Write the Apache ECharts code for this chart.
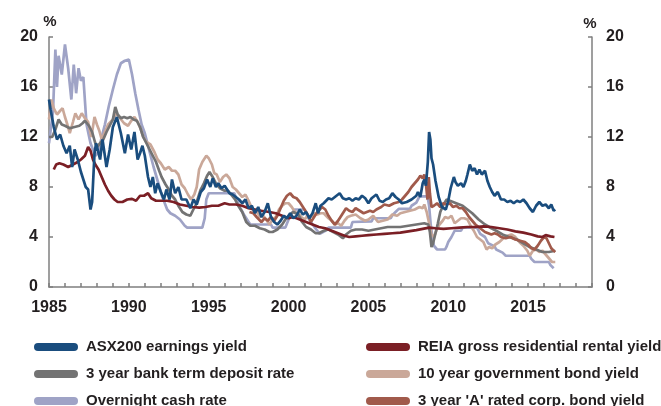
<!DOCTYPE html>
<html><head><meta charset="utf-8">
<script src="https://cdn.jsdelivr.net/npm/echarts@6/dist/echarts.min.js"></script>
<style>html,body{margin:0;padding:0;background:#fff}#c{width:661px;height:406px}</style>
</head><body><div id="c"></div>
<script>
const seriesNames = ['ASX200 earnings yield','REIA gross residential rental yield','3 year bank term deposit rate','10 year government bond yield','Overnight cash rate',"3 year 'A' rated corp. bond yield"];
const xTickYears = [1985,1990,1995,2000,2005,2010,2015];
const yTicks = [0,4,8,12,16,20];

const asx200 = [[1985.0,15.0],[1985.1,14.2],[1985.3,12.8],[1985.5,11.8],[1985.7,12.2],[1985.9,11.3],[1986.1,10.7],[1986.3,11.3],[1986.45,9.6],[1986.6,11.0],[1986.8,10.2],[1987.0,9.2],[1987.15,8.6],[1987.3,8.0],[1987.45,7.8],[1987.6,6.2],[1987.7,6.8],[1987.85,10.7],[1987.95,11.5],[1988.2,10.2],[1988.35,11.8],[1988.6,9.6],[1988.8,11.0],[1989.0,12.8],[1989.25,13.6],[1989.5,12.3],[1989.75,10.7],[1989.95,12.2],[1990.15,11.0],[1990.35,12.4],[1990.55,10.2],[1990.7,10.7],[1990.85,11.3],[1991.0,10.5],[1991.2,8.8],[1991.35,8.0],[1991.5,8.8],[1991.65,7.5],[1991.8,8.3],[1992.0,7.6],[1992.2,7.0],[1992.35,7.8],[1992.55,7.0],[1992.7,8.6],[1992.9,7.5],[1993.1,8.0],[1993.3,7.0],[1993.6,7.0],[1993.85,6.3],[1994.05,7.0],[1994.25,6.6],[1994.5,7.6],[1994.7,7.9],[1994.9,8.6],[1995.1,8.0],[1995.25,8.7],[1995.45,8.0],[1995.6,8.3],[1995.8,7.9],[1996.0,8.1],[1996.3,7.5],[1996.5,7.4],[1996.9,7.0],[1997.1,6.7],[1997.3,7.0],[1997.5,6.3],[1997.7,6.5],[1997.9,5.9],[1998.1,6.4],[1998.3,5.6],[1998.5,6.0],[1998.7,6.7],[1998.9,5.6],[1999.1,5.2],[1999.3,5.0],[1999.5,5.3],[1999.7,5.7],[1999.9,5.5],[2000.1,5.9],[2000.3,5.5],[2000.5,5.7],[2000.7,6.2],[2000.9,5.8],[2001.1,6.0],[2001.3,5.5],[2001.5,5.9],[2001.7,6.7],[2001.85,5.9],[2002.0,6.5],[2002.2,6.7],[2002.5,7.1],[2002.7,7.0],[2002.9,7.2],[2003.2,7.5],[2003.4,7.1],[2003.6,7.0],[2003.8,7.1],[2004.0,6.9],[2004.2,7.1],[2004.4,7.0],[2004.6,7.3],[2004.8,7.1],[2005.0,6.7],[2005.2,7.1],[2005.5,7.4],[2005.7,6.9],[2005.9,6.8],[2006.1,7.0],[2006.3,7.1],[2006.5,7.5],[2006.7,7.2],[2006.9,7.0],[2007.1,6.7],[2007.4,6.8],[2007.7,7.0],[2008.0,7.3],[2008.1,7.6],[2008.25,7.2],[2008.4,8.3],[2008.5,8.6],[2008.6,8.1],[2008.72,10.0],[2008.8,12.4],[2008.88,11.8],[2008.95,10.3],[2009.05,9.8],[2009.2,8.5],[2009.4,7.2],[2009.6,6.4],[2009.85,6.2],[2010.0,6.9],[2010.15,7.9],[2010.35,8.8],[2010.45,8.4],[2010.6,8.1],[2010.8,8.3],[2010.95,8.0],[2011.1,8.5],[2011.2,9.0],[2011.35,9.8],[2011.5,9.3],[2011.65,9.5],[2011.8,9.0],[2011.95,9.4],[2012.1,9.0],[2012.3,9.3],[2012.45,8.5],[2012.6,8.0],[2012.75,7.6],[2012.9,7.3],[2013.1,7.6],[2013.3,7.0],[2013.5,7.0],[2013.7,6.8],[2013.9,6.9],[2014.1,6.7],[2014.3,6.9],[2014.5,6.8],[2014.7,7.0],[2014.9,6.7],[2015.1,6.3],[2015.3,6.0],[2015.5,6.5],[2015.7,6.8],[2015.9,6.5],[2016.1,6.6],[2016.3,6.3],[2016.45,6.6],[2016.6,6.1],[2016.7,6.2]];

const rentalYield = [[1985.3,9.4],[1985.45,9.8],[1985.65,9.9],[1985.9,9.8],[1986.2,9.6],[1986.5,9.8],[1986.8,10.0],[1987.0,10.2],[1987.25,10.5],[1987.45,11.2],[1987.6,10.9],[1987.75,10.2],[1987.9,9.8],[1988.1,9.4],[1988.3,8.8],[1988.5,8.2],[1988.7,7.7],[1988.9,7.3],[1989.1,7.0],[1989.3,6.8],[1989.6,6.8],[1989.9,7.0],[1990.2,7.05],[1990.45,6.9],[1990.7,7.3],[1990.95,7.3],[1991.2,7.5],[1991.4,7.1],[1991.7,6.9],[1992.0,6.9],[1992.4,6.9],[1992.8,6.8],[1993.2,6.6],[1993.6,6.5],[1994.0,6.4],[1994.4,6.35],[1994.8,6.4],[1995.2,6.5],[1995.6,6.5],[1996.0,6.7],[1996.3,6.6],[1996.7,6.6],[1997.1,6.5],[1997.5,6.3],[1997.9,6.2],[1998.3,6.1],[1998.8,6.0],[1999.2,5.9],[1999.6,5.7],[2000.0,5.5],[2000.3,5.6],[2000.7,5.4],[2001.1,5.2],[2001.5,5.0],[2001.9,4.8],[2002.3,4.7],[2002.7,4.5],[2003.1,4.3],[2003.5,4.1],[2003.8,4.0],[2004.2,4.05],[2004.6,4.1],[2005.0,4.15],[2005.5,4.2],[2006.0,4.25],[2006.5,4.3],[2007.0,4.35],[2007.5,4.45],[2008.0,4.55],[2008.4,4.65],[2008.8,4.75],[2009.2,4.7],[2009.7,4.65],[2010.2,4.7],[2010.7,4.75],[2011.2,4.8],[2011.7,4.8],[2012.2,4.85],[2012.7,4.8],[2013.2,4.7],[2013.7,4.6],[2014.2,4.45],[2014.7,4.35],[2015.2,4.2],[2015.6,4.05],[2015.9,4.0],[2016.1,4.15],[2016.4,4.05],[2016.65,4.0]];

const termDeposit = [[1985.0,12.0],[1985.2,12.0],[1985.4,12.6],[1985.6,13.4],[1985.8,13.0],[1986.0,12.9],[1986.3,12.7],[1986.6,12.8],[1986.9,12.9],[1987.1,13.1],[1987.25,13.3],[1987.5,12.9],[1987.7,12.4],[1987.9,11.5],[1988.0,11.2],[1988.2,11.5],[1988.4,11.8],[1988.6,12.4],[1988.8,12.9],[1989.0,13.4],[1989.15,14.4],[1989.3,13.8],[1989.5,13.5],[1989.7,13.6],[1989.9,13.5],[1990.1,13.6],[1990.3,13.4],[1990.5,13.3],[1990.7,12.8],[1990.9,12.0],[1991.1,11.5],[1991.3,11.0],[1991.5,10.5],[1991.7,10.0],[1991.9,9.3],[1992.05,8.8],[1992.3,8.2],[1992.5,7.8],[1992.7,7.3],[1992.9,7.0],[1993.1,6.5],[1993.35,6.0],[1993.6,5.8],[1993.85,5.7],[1994.0,6.1],[1994.2,6.6],[1994.35,7.2],[1994.5,7.8],[1994.7,8.3],[1994.9,8.9],[1995.05,9.2],[1995.25,8.8],[1995.45,8.3],[1995.7,7.9],[1996.0,7.7],[1996.2,7.7],[1996.4,7.4],[1996.65,7.0],[1996.85,6.5],[1997.1,6.0],[1997.35,5.2],[1997.6,4.9],[1997.9,4.9],[1998.2,4.7],[1998.5,4.6],[1998.8,4.4],[1999.0,4.4],[1999.3,4.6],[1999.6,5.0],[1999.85,5.5],[2000.1,5.8],[2000.3,6.0],[2000.6,5.8],[2000.85,5.2],[2001.1,4.8],[2001.4,4.6],[2001.7,4.3],[2001.9,4.3],[2002.2,4.5],[2002.5,4.6],[2002.8,4.4],[2003.1,4.2],[2003.4,3.9],[2003.6,4.2],[2003.9,4.5],[2004.2,4.6],[2004.6,4.6],[2005.0,4.5],[2005.4,4.6],[2005.8,4.7],[2006.2,4.8],[2006.6,4.8],[2007.0,4.8],[2007.5,4.9],[2008.0,5.0],[2008.5,5.1],[2008.75,5.0],[2008.85,4.4],[2008.95,3.2],[2009.05,3.5],[2009.2,4.3],[2009.35,5.1],[2009.5,6.0],[2009.7,6.6],[2009.9,7.0],[2010.1,6.9],[2010.5,6.7],[2010.9,6.5],[2011.1,6.3],[2011.5,5.9],[2011.9,5.4],[2012.3,5.0],[2012.7,4.7],[2013.0,4.5],[2013.4,4.2],[2013.8,4.0],[2014.3,3.8],[2014.7,3.5],[2015.1,3.2],[2015.5,3.0],[2015.9,2.8],[2016.3,2.8],[2016.7,2.9]];

const govBond10y = [[1985.0,13.4],[1985.15,15.0],[1985.3,14.3],[1985.5,13.8],[1985.7,14.1],[1985.85,14.3],[1986.0,13.6],[1986.15,13.0],[1986.3,12.3],[1986.5,13.2],[1986.65,13.9],[1986.85,13.4],[1987.05,13.9],[1987.25,13.5],[1987.45,13.2],[1987.65,12.0],[1987.85,13.6],[1988.0,13.0],[1988.15,12.5],[1988.3,11.8],[1988.5,12.4],[1988.7,13.0],[1989.0,13.4],[1989.2,13.9],[1989.45,13.5],[1989.7,13.1],[1989.95,12.9],[1990.15,13.3],[1990.35,13.6],[1990.55,13.2],[1990.75,12.6],[1990.9,12.0],[1991.1,11.6],[1991.35,11.4],[1991.6,10.8],[1991.8,10.2],[1992.0,9.9],[1992.25,9.4],[1992.5,9.6],[1992.7,9.3],[1992.9,9.3],[1993.1,9.0],[1993.3,8.2],[1993.5,7.9],[1993.7,7.4],[1993.9,7.0],[1994.1,7.4],[1994.25,8.0],[1994.4,9.4],[1994.6,10.0],[1994.85,10.5],[1995.0,10.3],[1995.2,9.8],[1995.35,9.1],[1995.5,9.0],[1995.7,8.4],[1995.9,8.8],[1996.1,9.0],[1996.3,8.7],[1996.5,8.0],[1996.7,7.8],[1996.9,7.5],[1997.1,7.2],[1997.3,7.4],[1997.5,6.9],[1997.7,6.3],[1997.85,6.0],[1998.0,6.1],[1998.2,5.6],[1998.4,5.7],[1998.6,5.4],[1998.8,5.0],[1999.0,5.4],[1999.2,5.6],[1999.4,6.2],[1999.6,6.5],[1999.8,6.7],[2000.0,6.7],[2000.2,6.4],[2000.4,6.0],[2000.6,5.9],[2000.8,5.6],[2001.0,5.4],[2001.2,5.7],[2001.4,5.6],[2001.6,5.9],[2001.8,5.8],[2002.0,5.9],[2002.2,5.9],[2002.5,5.5],[2002.7,5.3],[2002.9,5.0],[2003.1,5.1],[2003.3,4.9],[2003.5,5.3],[2003.7,5.6],[2003.9,5.7],[2004.2,5.8],[2004.5,5.5],[2004.8,5.3],[2005.0,5.4],[2005.3,5.7],[2005.6,5.2],[2005.9,5.3],[2006.2,5.4],[2006.5,5.8],[2006.8,5.7],[2007.0,5.9],[2007.3,6.0],[2007.6,6.1],[2007.9,6.2],[2008.2,6.4],[2008.4,6.3],[2008.5,6.6],[2008.65,6.0],[2008.8,5.1],[2008.95,4.2],[2009.1,4.0],[2009.25,4.5],[2009.45,5.0],[2009.65,5.3],[2009.8,5.6],[2010.0,5.5],[2010.2,5.7],[2010.4,5.1],[2010.6,5.3],[2010.8,5.5],[2011.0,5.5],[2011.2,5.4],[2011.4,4.9],[2011.6,4.5],[2011.8,4.0],[2012.0,3.8],[2012.2,3.6],[2012.4,3.0],[2012.55,3.2],[2012.75,3.1],[2012.95,3.4],[2013.2,3.6],[2013.45,3.9],[2013.7,4.1],[2013.95,4.2],[2014.2,4.0],[2014.45,3.6],[2014.7,3.3],[2014.95,2.9],[2015.1,2.5],[2015.3,2.9],[2015.5,3.0],[2015.7,2.8],[2015.9,2.9],[2016.1,2.6],[2016.3,2.3],[2016.5,2.0],[2016.6,1.9],[2016.7,2.0]];

const cashRate = [[1985.0,11.5],[1985.25,14.0],[1985.4,19.0],[1985.5,16.0],[1985.6,18.5],[1985.8,17.0],[1986.0,19.4],[1986.2,17.5],[1986.4,15.0],[1986.55,17.8],[1986.7,15.5],[1986.85,17.5],[1987.0,16.5],[1987.15,16.8],[1987.35,13.0],[1987.6,11.5],[1987.9,10.5],[1988.1,10.8],[1988.3,12.0],[1988.5,13.0],[1988.75,14.5],[1989.0,15.8],[1989.25,17.0],[1989.5,17.9],[1989.75,18.1],[1990.0,18.2],[1990.2,17.0],[1990.4,15.5],[1990.6,14.2],[1990.8,13.0],[1991.0,12.3],[1991.3,10.8],[1991.55,9.6],[1991.8,8.5],[1992.1,7.2],[1992.4,6.2],[1992.6,5.9],[1992.9,5.7],[1993.2,5.4],[1993.5,4.9],[1993.65,4.75],[1994.6,4.75],[1994.75,5.5],[1994.85,7.0],[1995.0,7.5],[1996.6,7.5],[1996.75,7.0],[1996.9,6.5],[1997.2,5.8],[1997.6,5.0],[1998.9,5.0],[1999.0,4.75],[1999.8,4.75],[2000.0,5.4],[2000.2,5.9],[2000.4,6.2],[2001.0,6.2],[2001.2,5.6],[2001.5,5.0],[2001.8,4.5],[2001.95,4.25],[2002.3,4.5],[2002.5,4.75],[2003.9,4.75],[2004.0,5.2],[2005.2,5.25],[2005.3,5.5],[2006.4,5.5],[2006.5,5.75],[2006.7,6.0],[2006.9,6.25],[2007.6,6.25],[2007.7,6.5],[2008.0,6.75],[2008.2,7.25],[2008.7,7.25],[2008.8,6.5],[2008.9,5.0],[2009.0,4.0],[2009.1,3.3],[2009.3,3.0],[2009.8,3.0],[2009.9,3.25],[2010.0,3.6],[2010.2,4.0],[2010.4,4.5],[2010.8,4.5],[2010.9,4.75],[2011.8,4.75],[2011.9,4.5],[2012.0,4.25],[2012.3,4.0],[2012.5,3.5],[2012.9,3.25],[2013.0,3.0],[2013.4,2.75],[2013.6,2.5],[2015.1,2.5],[2015.2,2.25],[2015.4,2.0],[2016.3,2.0],[2016.4,1.75],[2016.6,1.5]];

const corpBond = [[1997.55,6.0],[1997.8,5.9],[1998.0,5.6],[1998.3,5.2],[1998.5,5.5],[1998.7,5.3],[1998.9,5.6],[1999.1,5.3],[1999.3,5.7],[1999.5,6.3],[1999.7,6.9],[1999.9,7.3],[2000.1,7.5],[2000.3,7.2],[2000.5,7.1],[2000.7,6.8],[2000.85,6.5],[2001.0,6.2],[2001.2,5.8],[2001.4,5.2],[2001.6,5.6],[2001.8,6.0],[2002.1,6.4],[2002.3,6.2],[2002.5,5.7],[2002.7,5.3],[2002.9,5.0],[2003.1,5.3],[2003.35,5.8],[2003.6,6.3],[2003.8,6.1],[2004.0,6.0],[2004.2,6.3],[2004.45,6.1],[2004.7,5.9],[2004.9,6.0],[2005.1,6.1],[2005.3,6.0],[2005.5,6.2],[2005.8,6.4],[2006.0,6.6],[2006.3,6.5],[2006.6,6.7],[2006.9,6.8],[2007.1,7.0],[2007.3,7.3],[2007.5,7.6],[2007.7,8.0],[2007.9,8.3],[2008.1,8.6],[2008.25,8.9],[2008.4,8.7],[2008.5,9.0],[2008.6,8.3],[2008.7,7.0],[2008.78,8.8],[2008.85,7.5],[2008.95,6.4],[2009.1,6.5],[2009.3,6.7],[2009.5,6.4],[2009.7,6.7],[2009.9,6.6],[2010.1,6.7],[2010.3,6.4],[2010.5,6.5],[2010.7,6.3],[2010.9,6.3],[2011.1,6.0],[2011.3,5.6],[2011.5,5.3],[2011.7,5.0],[2011.9,4.8],[2012.1,4.6],[2012.3,4.4],[2012.5,4.3],[2012.7,4.2],[2012.9,4.3],[2013.1,4.2],[2013.3,4.0],[2013.6,3.9],[2013.9,4.0],[2014.2,3.8],[2014.5,3.7],[2014.8,3.6],[2015.0,3.4],[2015.2,3.1],[2015.4,3.0],[2015.6,3.3],[2015.8,3.7],[2016.0,4.0],[2016.15,3.9],[2016.3,3.5],[2016.45,3.1],[2016.6,2.9],[2016.7,2.8]];

const colors = {
  asx: '#1a4d7e', rent: '#7b1f25', td: '#737373', gov: '#caa899', cash: '#9fa3c6', corp: '#a15a4b'
};

const chart = echarts.init(document.getElementById('c'), null, {renderer: 'canvas'});
const axisGray = '#7f7f7f';
const font = 'Liberation Sans, Arial, sans-serif';
const labelStyle = {color: '#231f20', fontFamily: font, fontWeight: 'bold', fontSize: 16};
function yAxisDef(pos) {
  return {
    type: 'value', position: pos, min: 0, max: 20, interval: 4,
    name: '%', nameLocation: 'end', nameGap: 6,
    nameTextStyle: {color: '#231f20', fontFamily: font, fontWeight: 'bold', fontSize: 15, padding: pos === 'left' ? [0,0,0,2] : [0,4,0,0]},
    axisLine: {show: true, lineStyle: {color: axisGray, width: 1.5}},
    axisTick: {show: true, inside: true, length: 4, lineStyle: {color: axisGray, width: 1.5}},
    axisLabel: Object.assign({margin: pos === 'left' ? 11 : 14, formatter: v => yTicks.includes(v) ? String(v) : ''}, labelStyle),
    splitLine: {show: false}
  };
}
const legendText = {color: '#231f20', fontFamily: font, fontWeight: 'bold', fontSize: 15, lineHeight: 16, padding: [0,0,0,3]};
const pill = 'path://M4,0 L40,0 A4,4 0 0 1 40,8 L4,8 A4,4 0 0 1 4,0 Z';
const legendPos = [[34,339],[366,339],[34,366],[366,366],[34,393],[366,393]];
const legendOrder = [0,1,2,3,4,5];
function line(name, data, color, z) {
  return {name, type: 'line', data, showSymbol: false, symbol: 'none', z,
    lineStyle: {color, width: 2.7}, itemStyle: {color}};
}
chart.setOption({
  animation: false,
  backgroundColor: '#ffffff',
  grid: {left: 49, right: 69, top: 37, bottom: 119},
  xAxis: {
    type: 'value', min: 1985, max: 2019, interval: 5,
    axisLine: {show: true, onZero: false, lineStyle: {color: axisGray, width: 1.5}},
    axisTick: {show: true, inside: true, length: 4, lineStyle: {color: axisGray, width: 1.5}},
    minorTick: {show: true, splitNumber: 5, length: 4, lineStyle: {color: axisGray, width: 1.5}},
    axisLabel: Object.assign({margin: 13, showMaxLabel: false, formatter: v => xTickYears.includes(v) ? String(v) : ''}, labelStyle),
    splitLine: {show: false}
  },
  yAxis: [yAxisDef('left'), yAxisDef('right')],
  legend: legendOrder.map((k, i) => ({
    left: legendPos[i][0], top: legendPos[i][1], padding: 0, itemWidth: 44, itemHeight: 8, icon: pill,
    textStyle: legendText, data: [seriesNames[k]], selectedMode: false
  })),
  series: [
    line(seriesNames[4], cashRate, colors.cash, 2),
    line(seriesNames[3], govBond10y, colors.gov, 3),
    line(seriesNames[2], termDeposit, colors.td, 4),
    line(seriesNames[5], corpBond, colors.corp, 5),
    line(seriesNames[1], rentalYield, colors.rent, 6),
    line(seriesNames[0], asx200, colors.asx, 7)
  ]
});
</script></body></html>
